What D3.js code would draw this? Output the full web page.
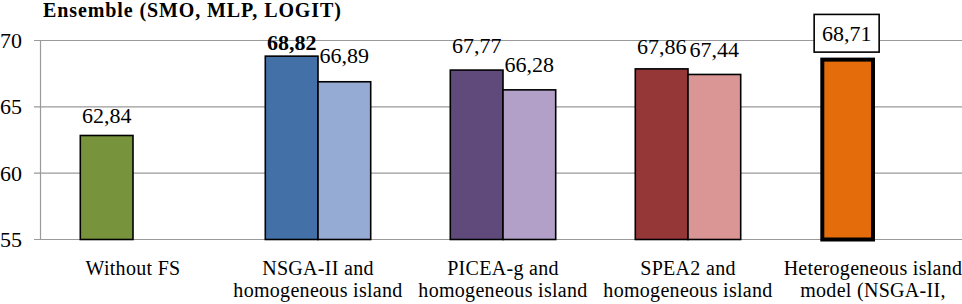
<!DOCTYPE html>
<html>
<head>
<meta charset="utf-8">
<script src="https://cdn.jsdelivr.net/npm/d3@7/dist/d3.min.js"></script>
</head>
<body style="margin:0">
<svg id="s" width="962" height="304"></svg>
<script>
// ---- data ----
const title = "Ensemble (SMO, MLP, LOGIT)";
const categories = ["Without FS", "NSGA-II and homogeneous island", "PICEA-g and homogeneous island", "SPEA2 and homogeneous island", "Heterogeneous island model (NSGA-II,"];
const categoryLines = [
  ["Without FS"],
  ["NSGA-II and", "homogeneous island"],
  ["PICEA-g and", "homogeneous island"],
  ["SPEA2 and", "homogeneous island"],
  ["Heterogeneous island", "model (NSGA-II,"]
];
const seriesA = [62.84, 68.82, 67.77, 67.86, 68.71];
const seriesB = [null, 66.89, 66.28, 67.44, null];
const yTicks = [55, 60, 65, 70];

// ---- styling (not data) ----
const FONT = "Liberation Serif";
const colorsA = ["#77933C", "#4470A8", "#5F4A7B", "#953737", "#E46C0A"];
const colorsB = [null, "#95ABD3", "#B3A0C8", "#D99694", null];
const gapA = [12, 6.5, 17.5, 15, 16.5];
const gapB = [0, 18.5, 17.5, 17.3, 0];

const svg = d3.select("#s");
const mLeft = 40.5, mBottom = 239.5, mTop = 40.5;

const x = d3.scaleBand().domain(categories).range([mLeft, mLeft + 5 * 185]).padding(0);
const sub = d3.scaleBand().domain(["A", "B"]).range([-52.7, 52.7]).padding(0);
const y = d3.scaleLinear().domain([55, 70]).range([mBottom, mTop]);

// gridlines
svg.selectAll("line.grid").data(yTicks).join("line")
  .attr("class", "grid")
  .attr("x1", 34).attr("x2", 962)
  .attr("y1", d => y(d)).attr("y2", d => y(d))
  .attr("stroke", "#9a9a9a").attr("stroke-width", 1.2);

// y axis line
svg.append("line").attr("x1", mLeft).attr("x2", mLeft)
  .attr("y1", y(70)).attr("y2", y(55))
  .attr("stroke", "#9a9a9a").attr("stroke-width", 1.2);

// bars
const barsA = categories.map((c, i) => ({c, v: seriesA[i], i, s: "A"}));
const barsB = categories.map((c, i) => ({c, v: seriesB[i], i, s: "B"})).filter(d => d.v != null);
const all = barsA.concat(barsB);
const thick = d => d.i === 4;
const barCx = d => x(d.c) + x.bandwidth() / 2 + sub(d.s) + sub.bandwidth() / 2;

svg.selectAll("rect.bar").data(all).join("rect")
  .attr("class", "bar")
  .attr("x", d => x(d.c) + x.bandwidth() / 2 + sub(d.s) + (thick(d) ? 2 : 0))
  .attr("width", d => sub.bandwidth() - (thick(d) ? 2 : 0))
  .attr("y", d => y(d.v) + (thick(d) ? 2 : 0))
  .attr("height", d => y(55) - y(d.v) - (thick(d) ? 2 : 0))
  .attr("fill", d => d.s === "A" ? colorsA[d.i] : colorsB[d.i])
  .attr("stroke", "#000")
  .attr("stroke-width", d => thick(d) ? 4 : 1.6);

// value label helpers
const fmt = v => v.toFixed(2).replace(".", ",");
const labelY = d => y(d.v) - (d.s === "A" ? gapA[d.i] : gapB[d.i]);

// box around heterogeneous label
svg.selectAll("rect.box").data(all.filter(d => d.i === 4)).join("rect")
  .attr("class", "box")
  .attr("x", d => barCx(d) - 32.5).attr("y", d => labelY(d) - 26.7)
  .attr("width", 65).attr("height", 37.7)
  .attr("fill", "#fff").attr("stroke", "#000").attr("stroke-width", 1.6);

// y tick labels
svg.selectAll("text.ytick").data(yTicks).join("text")
  .attr("class", "ytick")
  .attr("x", 22).attr("y", d => y(d) + 7.5)
  .attr("text-anchor", "end").attr("font-size", 22)
  .style("font-family", FONT)
  .text(d => d);

// title
svg.append("text").attr("x", 43).attr("y", 17)
  .attr("font-size", 20).attr("font-weight", "bold")
  .attr("letter-spacing", 0.9)
  .style("font-family", FONT)
  .text(title);

// value labels
svg.selectAll("text.val").data(all).join("text")
  .attr("class", "val")
  .attr("x", barCx)
  .attr("y", labelY)
  .attr("text-anchor", "middle").attr("font-size", 22)
  .attr("font-weight", d => (d.s === "A" && d.i === 1) ? "bold" : "normal")
  .style("font-family", FONT)
  .text(d => fmt(d.v));

// category labels
categories.forEach((c, i) => {
  categoryLines[i].forEach((t, j) => {
    svg.append("text")
      .attr("x", x(c) + x.bandwidth() / 2)
      .attr("y", 275 + j * 22)
      .attr("text-anchor", "middle").attr("font-size", 20)
      .attr("letter-spacing", 0.3)
      .style("font-family", FONT)
      .text(t);
  });
});
</script>
</body>
</html>
